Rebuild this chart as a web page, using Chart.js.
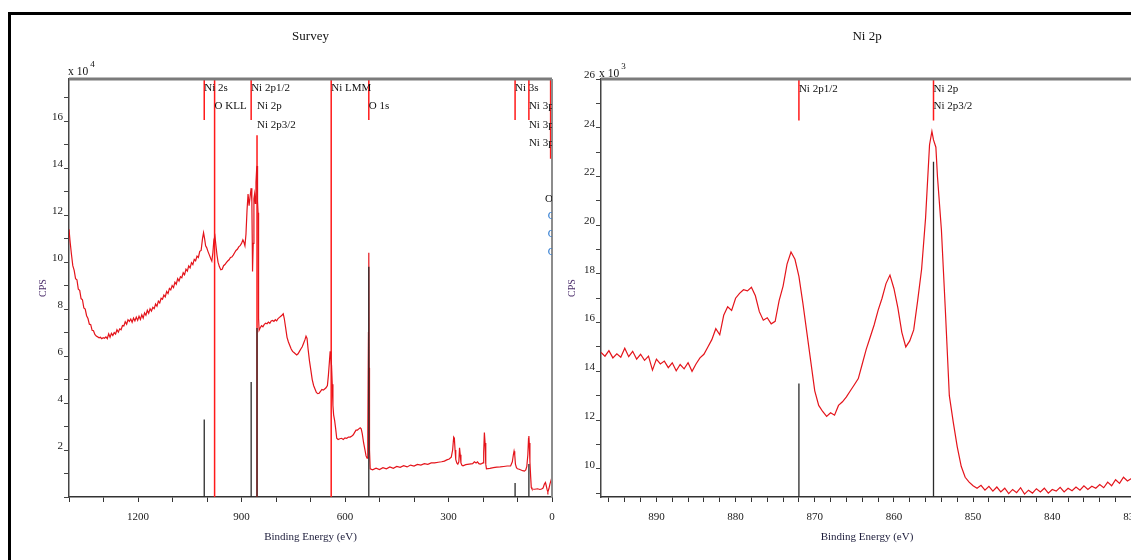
<!DOCTYPE html>
<html>
<head>
<meta charset="utf-8">
<script src="https://cdn.jsdelivr.net/npm/chart.js@4.4.1/dist/chart.umd.min.js"></script>
<style>
  html, body { margin: 0; padding: 0; background: #fff; overflow: hidden; }
  body { width: 1131px; height: 560px; position: relative; }
  #frame { position: absolute; left: 8px; top: 12px; width: 1200px; height: 600px; border-left: 3px solid #000; border-top: 3px solid #000; }
  canvas { position: absolute; top: 0; }
  #survey { left: 0; }
  #ni2p { left: 560px; }
</style>
</head>
<body>
<div id="frame"></div>
<canvas id="survey" width="566" height="560"></canvas>
<canvas id="ni2p" width="600" height="560"></canvas>
<script>
// survey spectrum, binding energy (eV) and CPS (x 10^4)
const surveyEnergy = [1400,1397,1393,1389,1385,1381,1377,1373,1369,1365,1361,1357,1353,1349,1345,1341,1337,1333,1329,1325,
  1321,1317,1313,1309,1305,1301,1297,1293,1289,1285,1281,1277,1273,1269,1265,1261,1257,1253,1249,1245,
  1241,1237,1233,1229,1225,1221,1217,1213,1209,1205,1201,1197,1193,1189,1185,1181,1177,1173,1169,1165,
  1161,1157,1153,1149,1145,1141,1137,1133,1129,1125,1121,1117,1113,1109,1105,1101,1097,1093,1089,1085,
  1081,1077,1073,1069,1065,1061,1057,1053,1049,1045,1041,1037,1033,1029,1025,1021,1017,1013,1010,1007,
  1004,1001,997,993,989,986,983,980,977,974,971,968,964,960,956,952,948,944,940,936,
  932,928,924,920,916,912,908,904,900,896,893,890,887,884,881,878,875,872,870,868,
  866,864,862,860,858,856,855,854,853,852,851,850,849,846,842,838,834,830,826,822,
  818,814,810,806,802,798,794,790,786,782,779,776,772,768,764,760,756,752,748,744,
  740,736,732,728,724,720,716,713,710,707,703,699,695,691,687,683,679,675,671,667,
  663,659,655,651,648,645,643,641,639,637,635,633,630,627,624,620,615,610,605,600,
  595,590,585,580,576,572,568,564,560,556,553,550,546,542,539,536,534,532,531,530,
  529,527,520,510,500,490,480,470,460,450,440,430,420,410,400,390,380,370,360,350,
  340,330,320,312,305,298,292,288,285,283,281,279,276,273,270,268,266,264,261,258,
  250,240,230,225,220,216,212,208,204,200,198,196,194,192,190,180,170,160,150,140,
  130,120,115,112,110,108,106,103,100,95,90,85,80,76,73,70,68,67,66,64,
  62,60,58,50,42,35,30,26,22,19,17,14,12,9,6,3,0];
const surveyCps = [11.4,10.9,10.35,9.85,9.65,9.3,9.25,8.85,8.8,8.45,8.4,8.05,8.0,7.72,7.6,7.36,7.34,7.1,7.08,6.92,
  6.85,6.82,6.78,6.8,6.74,6.78,6.76,6.82,6.74,6.95,6.8,6.97,6.88,7.0,6.94,7.12,7.02,7.16,7.12,7.3,
  7.28,7.46,7.36,7.55,7.48,7.58,7.44,7.62,7.5,7.66,7.52,7.7,7.56,7.76,7.62,7.84,7.74,7.95,7.82,8.02,
  7.92,8.08,8.02,8.22,8.12,8.34,8.26,8.46,8.42,8.6,8.52,8.75,8.66,8.88,8.82,9.0,8.92,9.15,9.06,9.3,
  9.2,9.38,9.34,9.55,9.46,9.7,9.62,9.84,9.76,9.98,9.9,10.12,10.06,10.26,10.2,10.46,10.5,11.0,11.25,11.0,
  10.7,10.62,10.45,10.3,10.15,10.05,10.4,10.95,11.1,10.7,10.3,10.0,9.8,9.68,9.7,9.85,9.9,9.98,10.05,10.1,
  10.2,10.22,10.3,10.4,10.5,10.55,10.65,10.7,10.8,10.95,10.85,10.7,11.2,12.2,12.9,12.4,12.8,13.15,12.6,9.6,
  10.8,12.7,12.9,12.5,13.4,14.0,14.1,13.9,12.6,12.1,9.2,7.6,7.1,7.2,7.3,7.25,7.35,7.4,7.38,7.45,
  7.4,7.5,7.52,7.48,7.55,7.5,7.6,7.65,7.7,7.75,7.8,7.6,7.2,6.8,6.6,6.45,6.3,6.2,6.15,6.1,
  6.05,6.1,6.2,6.3,6.4,6.55,6.7,6.85,6.75,6.3,5.8,5.4,5.0,4.75,4.6,4.45,4.4,4.42,4.5,4.58,
  4.55,4.6,4.65,4.75,5.2,5.8,6.2,5.9,5.6,4.8,3.9,3.5,3.25,2.9,2.5,2.45,2.48,2.5,2.45,2.52,
  2.5,2.55,2.55,2.6,2.65,2.75,2.85,2.85,2.9,2.95,2.9,2.7,2.3,2.0,1.75,1.65,2.5,7.0,10.4,5.5,
  2.0,1.2,1.16,1.23,1.17,1.25,1.2,1.28,1.22,1.3,1.26,1.33,1.28,1.36,1.32,1.39,1.36,1.42,1.39,1.45,
  1.45,1.48,1.5,1.53,1.58,1.62,1.7,2.0,2.55,2.5,2.0,1.6,1.45,1.4,1.5,2.1,1.8,1.45,1.35,1.33,
  1.38,1.4,1.42,1.5,1.45,1.5,1.42,1.4,1.42,1.45,1.9,2.75,2.3,1.4,1.2,1.22,1.25,1.27,1.28,1.3,
  1.32,1.32,1.5,1.8,1.95,1.8,1.4,1.25,1.2,1.18,1.15,1.12,1.1,1.15,1.3,1.8,2.5,2.6,2.3,1.5,
  0.9,0.4,0.34,0.33,0.35,0.32,0.34,0.38,0.55,0.62,0.5,0.3,0.22,0.35,0.55,0.7,0.85];

// Ni 2p region, binding energy (eV) and CPS (x 10^3)
const ni2pEnergy = [897,896.5,896,895.5,895,894.5,894,893.5,893,892.5,892,891.5,891,890.5,890,889.5,889,888.5,888,887.5,
  887,886.5,886,885.5,885,884.5,884,883.5,883,882.5,882,881.5,881,880.5,880,879.5,879,878.5,878,877.5,
  877,876.5,876,875.5,875,874.5,874,873.5,873,872.5,872,871.5,871,870.5,870,869.5,869,868.5,868,867.5,
  867,866.5,866,865.5,865,864.5,864,863.5,863,862.5,862,861.5,861,860.5,860,859.5,859,858.5,858,857.5,
  857,856.5,856,855.5,855.2,855,854.7,854.5,854,853.5,853,852.5,852,851.5,851,850.5,850,849.5,849,848.5,
  848,847.5,847,846.5,846,845.5,845,844.5,844,843.5,843,842.5,842,841.5,841,840.5,840,839.5,839,838.5,
  838,837.5,837,836.5,836,835.5,835,834.5,834,833.5,833,832.5,832,831.5,831,830.5,830,829.5];
const ni2pCps = [14.78,14.62,14.85,14.55,14.72,14.58,14.95,14.6,14.82,14.5,14.7,14.45,14.62,14.05,14.5,14.3,14.42,14.15,14.35,14.02,
  14.28,14.1,14.35,14.0,14.3,14.55,14.7,15.0,15.3,15.75,15.5,16.3,16.65,16.5,17.0,17.2,17.35,17.3,17.45,17.1,
  16.45,16.1,16.2,15.95,16.05,16.9,17.5,18.4,18.9,18.6,17.9,16.8,15.6,14.4,13.2,12.6,12.35,12.15,12.3,12.2,
  12.6,12.75,12.95,13.2,13.45,13.7,14.3,14.9,15.4,15.9,16.5,17.0,17.6,17.95,17.4,16.6,15.6,15.0,15.25,15.7,
  16.9,18.2,20.3,23.3,23.85,23.5,23.2,22.0,19.8,16.5,13.0,11.9,10.9,10.1,9.65,9.45,9.3,9.2,9.32,9.12,
  9.28,9.08,9.25,9.05,9.2,8.98,9.15,9.02,9.22,8.96,9.12,9.0,9.18,9.05,9.2,9.0,9.15,9.08,9.24,9.05,
  9.2,9.1,9.25,9.12,9.3,9.15,9.28,9.2,9.35,9.22,9.45,9.3,9.55,9.4,9.65,9.5,9.6,9.45];

// element markers (red, from the top) and peak lines (black, from the axis)
const surveyRedEnergy = [1008, 978, 872, 855, 640, 531, 107, 67, 4];
const surveyRedTop = [17.8, 17.8, 17.8, 15.4, 17.8, 17.8, 17.8, 17.8, 17.8];
const surveyRedBottom = [16.05, 0, 16.05, 0, 0, 16.05, 16.05, 16.05, 14.4];
const surveyBlackEnergy = [1008, 872, 855, 531, 107, 67];
const surveyBlackTop = [3.3, 4.9, 7.2, 9.8, 0.6, 1.4];
const ni2pRedEnergy = [872, 855];
const ni2pRedTop = [26, 26];
const ni2pRedBottom = [24.3, 24.3];
const ni2pBlackEnergy = [872, 855];
const ni2pBlackTop = [13.5, 22.6];

const surveyLabels = ['Ni 2s', 'O KLL', 'Ni 2p1/2', 'Ni 2p', 'Ni 2p3/2', 'Ni LMM', 'O 1s', 'Ni 3s', 'Ni 3p', 'Ni 3p', 'Ni 3p', 'O 2s', 'O 2s', 'O 2s', 'O 2s'];
const surveyLabelEnergy = [1008, 978, 872, 855, 855, 640, 531, 107, 67, 67, 67, 20, 12, 12, 12];
const surveyLabelRow = [0, 1, 0, 1, 2, 0, 1, 0, 1, 2, 3, 6, 6.95, 7.9, 8.85];
const ni2pLabels = ['Ni 2p1/2', 'Ni 2p', 'Ni 2p3/2'];
const ni2pLabelEnergy = [872, 855, 855];
const ni2pLabelRow = [0, 0, 1];

const serif = "'Liberation Serif', 'DejaVu Serif', serif";

function toPoints(xs, ys) {
  return xs.map((x, i) => ({ x: x, y: ys[i] }));
}

function markerSets(energies, tops, bottoms, color, width, order) {
  return energies.map((e, i) => ({
    data: [{ x: e, y: tops[i] }, { x: e, y: bottoms[i] }],
    borderColor: color,
    borderWidth: width,
    pointRadius: 0,
    order: order
  }));
}

// top/right frame, exponent and marker labels
const decor = {
  id: 'decor',
  afterDatasetsDraw(chart, args, opts) {
    const { ctx, chartArea: a, scales } = chart;
    ctx.save();
    ctx.strokeStyle = '#7b7b7b';
    ctx.lineWidth = 3;
    ctx.beginPath(); ctx.moveTo(a.left, a.top); ctx.lineTo(a.right, a.top); ctx.stroke();
    ctx.strokeStyle = '#8c8c8c';
    ctx.lineWidth = 2;
    ctx.beginPath(); ctx.moveTo(a.right, a.top); ctx.lineTo(a.right, a.bottom); ctx.stroke();

    ctx.fillStyle = '#111';
    ctx.textAlign = 'left';
    ctx.textBaseline = 'alphabetic';
    ctx.font = '11.5px ' + serif;
    const base = 'x 10';
    ctx.fillText(base, a.left + opts.expDx, a.top - opts.expDy);
    const w = ctx.measureText(base).width;
    ctx.font = '9px ' + serif;
    ctx.fillText(opts.exponent, a.left + opts.expDx + w + 2, a.top - opts.expDy - 8);

    ctx.beginPath();
    ctx.rect(a.left, a.top, a.right - a.left, a.bottom - a.top);
    ctx.clip();
    ctx.font = '11px ' + serif;
    ctx.textBaseline = 'middle';
    opts.text.forEach((t, i) => {
      ctx.fillStyle = (opts.blue && opts.blue[i]) ? '#2a78d0' : '#111';
      const x = scales.x.getPixelForValue(opts.energy[i]);
      ctx.fillText(t, x, a.top + opts.firstRow + opts.row[i] * opts.rowGap);
    });
    ctx.restore();
  }
};

function axisFont(size) {
  return { family: serif, size: size, weight: 'normal' };
}

function makeChart(id, cfg) {
  return new Chart(document.getElementById(id), {
    type: 'line',
    data: {
      datasets: [
        ...markerSets(cfg.blackE, cfg.blackTop, cfg.blackE.map(() => cfg.yMin), '#2b2b2b', 1.3, 0),
        { data: toPoints(cfg.energy, cfg.cps), borderColor: '#e4141b', borderWidth: 1.2, pointRadius: 0, order: 1 },
        ...markerSets(cfg.redE, cfg.redTop, cfg.redBottom, '#ff1a1a', 1.5, 2)
      ]
    },
    options: {
      responsive: false,
      animation: false,
      layout: { padding: { left: 0, right: cfg.padRight, top: 0, bottom: 0 } },
      plugins: {
        legend: { display: false },
        tooltip: { enabled: false },
        title: {
          display: true, text: cfg.title, fullSize: false,
          font: axisFont(13), color: '#111',
          padding: { top: 29, bottom: 34.4 }
        },
        decor: cfg.decor
      },
      scales: {
        x: {
          type: 'linear', reverse: true, min: cfg.xMin, max: cfg.xMax,
          afterFit: s => { s.height = 63; },
          ticks: {
            stepSize: cfg.xStep, autoSkip: false, maxRotation: 0, includeBounds: false, padding: 9,
            font: axisFont(11), color: '#1a1a1a',
            callback: v => (v % cfg.xLabelEvery === 0 ? String(v) : '')
          },
          grid: { drawOnChartArea: false, tickLength: 5, color: '#333' },
          border: { color: '#333', width: 1.5 },
          title: { display: true, text: 'Binding Energy (eV)', font: axisFont(11), color: '#1c1c3a', padding: { top: 0, bottom: 16.7 } }
        },
        y: {
          min: cfg.yMin, max: cfg.yMax,
          afterFit: s => { s.width = cfg.yWidth; },
          ticks: {
            stepSize: 1, autoSkip: false, includeBounds: false, padding: 1, labelOffset: -4,
            font: axisFont(11), color: '#1a1a1a',
            callback: v => (v % 2 === 0 && v > 0 ? String(v) : '')
          },
          grid: { drawOnChartArea: false, tickLength: 5, color: '#444' },
          border: { color: '#444', width: 1.5 },
          title: { display: true, text: 'CPS', font: axisFont(10), color: '#4a2c6a', padding: { top: cfg.cpsPad, bottom: 0 } }
        }
      }
    },
    plugins: [decor]
  });
}

makeChart('survey', {
  title: 'Survey', energy: surveyEnergy, cps: surveyCps,
  xMin: 0, xMax: 1400, xStep: 100, xLabelEvery: 300,
  yMin: 0, yMax: 17.8, yWidth: 69, cpsPad: 37, padRight: 14,
  redE: surveyRedEnergy, redTop: surveyRedTop, redBottom: surveyRedBottom,
  blackE: surveyBlackEnergy, blackTop: surveyBlackTop,
  decor: {
    exponent: '4', expDx: -1, expDy: 4,
    text: surveyLabels, energy: surveyLabelEnergy, row: surveyLabelRow,
    blue: surveyLabels.map((t, i) => i >= 12),
    firstRow: 9, rowGap: 18.5
  }
});

makeChart('ni2p', {
  title: 'Ni 2p', energy: ni2pEnergy, cps: ni2pCps,
  xMin: 829.8, xMax: 897, xStep: 2, xLabelEvery: 10,
  yMin: 8.84, yMax: 26, yWidth: 41, cpsPad: 6, padRight: 27,
  redE: ni2pRedEnergy, redTop: ni2pRedTop, redBottom: ni2pRedBottom,
  blackE: ni2pBlackEnergy, blackTop: ni2pBlackTop,
  decor: {
    exponent: '3', expDx: -2, expDy: 2,
    text: ni2pLabels, energy: ni2pLabelEnergy, row: ni2pLabelRow,
    firstRow: 10, rowGap: 17.5
  }
});
</script>
</body>
</html>
